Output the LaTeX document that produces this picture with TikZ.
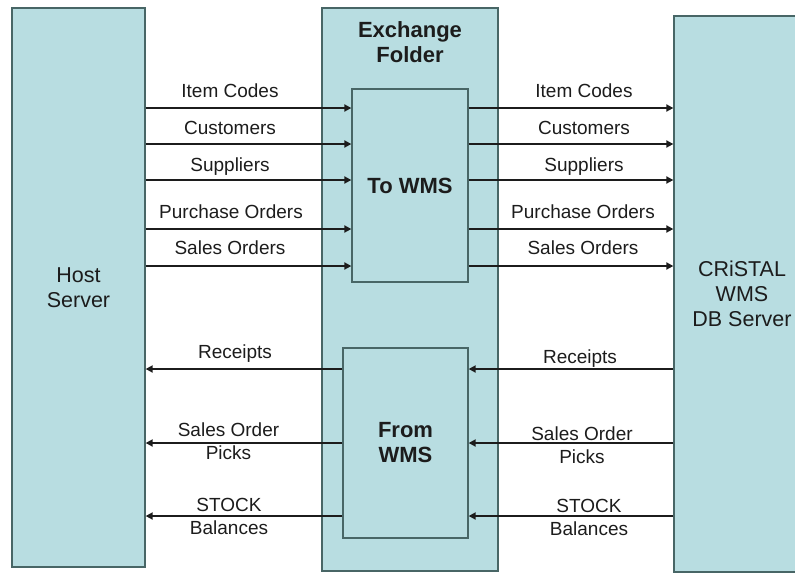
\documentclass[tikz,border=0pt]{standalone}
\usepackage{fontspec}
\setmainfont{Liberation Sans}
\usetikzlibrary{arrows.meta}
\definecolor{panel}{RGB}{184,221,225}
\definecolor{edge}{RGB}{72,102,102}
\definecolor{ink}{RGB}{28,28,28}
\tikzset{
  panelbox/.style={draw=edge, line width=1.3pt, fill=panel, inner sep=0pt,
    text=ink, align=center, font=\fontsize{21.5}{25}\selectfont},
  boldtitle/.style={text=ink, align=center, inner sep=0pt,
    font=\bfseries\fontsize{22}{25}\selectfont},
  flow/.style={draw=ink, line width=2.2pt, -{Triangle[length=7pt,width=7pt]}},
  flowlabel/.style={text=ink, inner sep=0pt, text height=13.6pt, text depth=0pt,
    font=\fontsize{19}{23}\selectfont},
  flowlabeltwo/.style={text=ink, inner sep=0pt, align=center,
    font=\fontsize{19}{23}\selectfont},
}
\begin{document}
\begin{tikzpicture}[x=1pt,y=-1pt]
\useasboundingbox (0,0) rectangle (795,574);
\clip (0,0) rectangle (795,574);

% servers and the exchange folder
\node[panelbox, minimum width=133pt, minimum height=559pt] (host) at (78.5,287.5) {Host\\Server};
\node[panelbox, minimum width=176pt, minimum height=563pt] (xfolder) at (410,289.5) {};
\node[panelbox, minimum width=136pt, minimum height=556pt] (cristal) at (742,294) {CRiSTAL\\WMS\\DB Server};
\node[boldtitle] (xtitle) at (410,42.5) {Exchange\\Folder};

% folders inside the exchange area
\node[panelbox, minimum width=116pt, minimum height=193pt, font=\bfseries\fontsize{22}{25}\selectfont] (towms) at (410,185.5) {To WMS};
\node[panelbox, minimum width=125pt, minimum height=190pt, font=\bfseries\fontsize{22}{25}\selectfont] (fromwms) at (405.5,443) {From\\WMS};

% row heights
\coordinate (r1) at (0,108);
\coordinate (r2) at (0,144);
\coordinate (r3) at (0,180);
\coordinate (r4) at (0,229);
\coordinate (r5) at (0,266);
\coordinate (b1) at (0,369);
\coordinate (b2) at (0,443);
\coordinate (b3) at (0,516);

% host -> To WMS
\foreach \r in {r1,r2,r3,r4,r5}
  \draw[flow] (host.east |- \r) -- (towms.west |- \r);
% To WMS -> CRiSTAL
\foreach \r in {r1,r2,r3,r4,r5}
  \draw[flow] (towms.east |- \r) -- (cristal.west |- \r);
% From WMS -> host
\foreach \r in {b1,b2,b3}
  \draw[flow] (fromwms.west |- \r) -- (host.east |- \r);
% CRiSTAL -> From WMS
\foreach \r in {b1,b2,b3}
  \draw[flow] (cristal.west |- \r) -- (fromwms.east |- \r);

% labels, host side
\node[flowlabel] (la1) at (230,91) {Item Codes};
\node[flowlabel] (la2) at (230,128) {Customers};
\node[flowlabel] (la3) at (230,165) {Suppliers};
\node[flowlabel] (la4) at (231,212) {Purchase Orders};
\node[flowlabel] (la5) at (230,248) {Sales Orders};
\node[flowlabel] (lb1) at (235,352) {Receipts};
\node[flowlabeltwo] (lb2) at (228.5,441.5) {Sales Order\\Picks};
\node[flowlabeltwo] (lb3) at (229,516.5) {STOCK\\Balances};

% labels, CRiSTAL side
\node[flowlabel] (ra1) at (584,91) {Item Codes};
\node[flowlabel] (ra2) at (584,128) {Customers};
\node[flowlabel] (ra3) at (584,165) {Suppliers};
\node[flowlabel] (ra4) at (583,212) {Purchase Orders};
\node[flowlabel] (ra5) at (583,248) {Sales Orders};
\node[flowlabel] (rb1) at (580,357) {Receipts};
\node[flowlabeltwo] (rb2) at (582,445) {Sales Order\\Picks};
\node[flowlabeltwo] (rb3) at (589,517.5) {STOCK\\Balances};
\end{tikzpicture}
\end{document}
